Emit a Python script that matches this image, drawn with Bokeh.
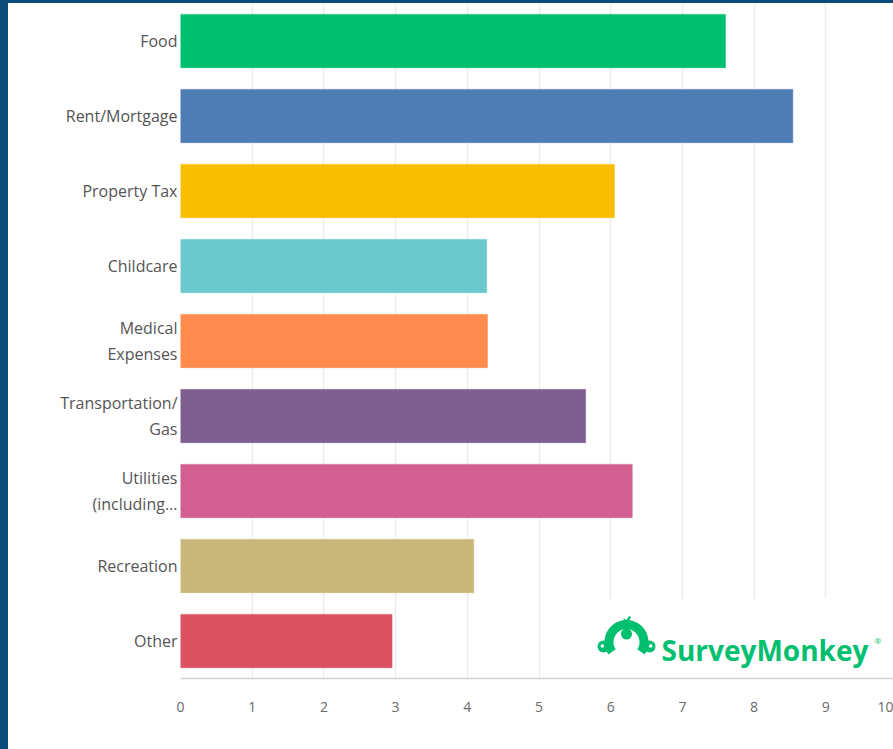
from bokeh.plotting import figure
from bokeh.models import FactorRange, Range1d, FixedTicker
from bokeh.core.properties import value
from bokeh.embed import file_html
from bokeh.resources import INLINE

# ---- data ----
categories = ["Food", "Rent/Mortgage", "Property Tax", "Childcare",
              "Medical\nExpenses", "Transportation/\nGas",
              "Utilities\n(including...", "Recreation", "Other"]
scores = [7.60, 8.54, 6.05, 4.27, 4.28, 5.65, 6.30, 4.09, 2.95]
colors = ["#00bf6f", "#507cb6", "#f9be00", "#6bc8cd", "#ff8b4f",
          "#7f5f90", "#d25f90", "#c7b879", "#dc5260"]
x_ticks = [0, 1, 2, 3, 4, 5, 6, 7, 8, 9, 10]
brand = "SurveyMonkey"

FONT = "Open Sans"
FIG_W, FIG_H = 893, 749
BORDER_L, BORDER_T = 8, 3
FRAME_LEFT_PAGE = 180
FRAME_TOP_PAGE = 3
FRAME_W = FIG_W - (FRAME_LEFT_PAGE - BORDER_L)
FRAME_H = 675
PX_PER_X = 71.7
PX_PER_CAT = FRAME_H / len(categories)

p = figure(width=FIG_W, height=FIG_H, output_backend="svg", toolbar_location=None,
           y_range=FactorRange(factors=list(reversed(categories)), range_padding=0),
           x_range=Range1d(0, FRAME_W / PX_PER_X),
           min_border_left=FRAME_LEFT_PAGE - BORDER_L, min_border_right=0,
           min_border_top=0, min_border_bottom=FIG_H - FRAME_H,
           x_axis_location="below")
p.styles = {"border-left": "8px solid #0b4d78", "border-top": "3px solid #0b4d78"}
p.outline_line_color = None
p.background_fill_color = "white"
p.border_fill_color = "white"

p.hbar(y=categories, right=scores, height=0.71, left=0,
       fill_color=colors, line_color=colors, line_alpha=0.6)

# axes
xa = p.xaxis[0]
xa.ticker = FixedTicker(ticks=x_ticks)
xa.axis_line_color = "#d3d3d3"
xa.axis_line_width = 1.5
xa.major_tick_line_color = None
xa.minor_tick_line_color = None
xa.major_tick_out = 0
xa.major_label_standoff = 23
xa.major_label_text_font = FONT
xa.major_label_text_font_size = "14px"
xa.major_label_text_color = "#6a6a6a"

ya = p.yaxis[0]
ya.axis_line_color = None
ya.major_tick_line_color = None
ya.minor_tick_line_color = None
ya.major_tick_out = 0
ya.major_label_standoff = 3
ya.major_label_text_font = FONT
ya.major_label_text_font_size = "16px"
ya.major_label_text_color = "#555555"

p.xgrid.ticker = FixedTicker(ticks=x_ticks)
p.xgrid.grid_line_color = "#ececec"
p.xgrid.grid_line_width = 1.5
p.ygrid.grid_line_color = None

# ---- logo: positioned relative to the last category row ----
G = "#00bf6f"
last = categories[-1]
last_center_page = FRAME_TOP_PAGE + FRAME_H - PX_PER_CAT / 2

def X(px):
    return (px - FRAME_LEFT_PAGE) / PX_PER_X
def Y(py):
    return (last, (last_center_page - py) / PX_PER_CAT)

# white backdrop hiding gridlines behind the logo
p.quad(left=[X(588)], right=[X(905)], bottom=[Y(677)], top=[Y(598)],
       fill_color="white", line_color=None)
# head dome
p.annular_wedge(x=[X(626)], y=[Y(641.5)], inner_radius=13, outer_radius=22,
                inner_radius_units="screen", outer_radius_units="screen",
                start_angle=-0.6, end_angle=3.74, fill_color=G, line_color=None)
# brow bump (makes the face an "m")
p.scatter(x=[X(626)], y=[Y(633.5)], size=11, fill_color=G, line_color=None)
# ears
p.scatter(x=[X(603), X(649)], y=[Y(646), Y(646)], size=12,
          fill_color=G, line_color=None)
p.scatter(x=[X(601.8), X(650.2)], y=[Y(645.5), Y(645.5)], size=3.6,
          fill_color="white", line_color=None)
# tuft
p.patch(x=[X(624.5), X(622.5), X(626), X(628.5), X(630.5), X(628)],
        y=[Y(621), Y(617.5), Y(619.5), Y(615.5), Y(616.5), Y(621)],
        fill_color=G, line_color=None)
# brand text
p.text(x=[X(661)], y=[Y(649.5)], text=[brand], text_font=value(FONT),
       text_font_size="28px", text_color=G, text_font_style="bold",
       text_baseline="alphabetic", text_align="left")
p.text(x=[X(874)], y=[Y(640)], text=["\u00ae"], text_font=value(FONT),
       text_font_size="8px", text_color=G, text_baseline="alphabetic",
       text_align="left")

open("out.html", "w").write(file_html(p, INLINE))
